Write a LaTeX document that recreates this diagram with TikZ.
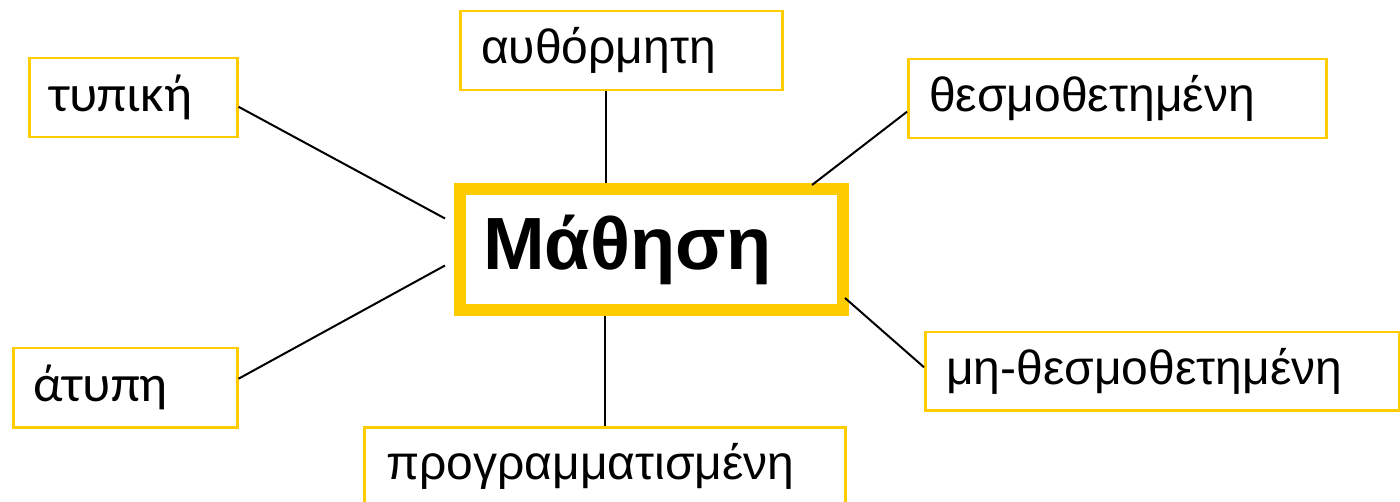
\documentclass[tikz,border=0pt]{standalone}
\usepackage{fontspec}
\setmainfont{Liberation Sans}
\newfontfamily\calfont{Carlito}
\usepackage{tikz}
\usetikzlibrary{
  positioning,
  calc
}
\definecolor{gelb}{HTML}{FFCC00}

\begin{document}
\begin{tikzpicture}[x=1pt,y=-1pt,
  box/.style={draw=gelb,line width=2.5pt,anchor=north west,inner xsep=21pt,align=left,font=\fontsize{48}{52}\selectfont},
  kante/.style={line width=2pt}]
\useasboundingbox (0,0) rectangle (1400,502);

\node (lernen) [draw=gelb, line width=12pt, minimum width=383pt, minimum height=121pt, text width=337pt, inner xsep=23pt, align=left, font=\bfseries\fontsize{74}{78}\selectfont] at (651.5,249.5) {Μάθηση};

\node (typisch) [box, minimum height=79pt, text width=168pt, inner xsep=20pt, font=\calfont\fontsize{52}{56}\selectfont] at (28,57) {τυπική};
\node (spontan) [box, minimum height=79pt, text width=280pt] at (459,10) {αυθόρμητη};
\node (formal) [box, minimum height=79pt, text width=376pt] at (907,58) {θεσμοθετημένη};
\node (atypisch) [box, minimum height=79pt, text width=184pt, inner xsep=20pt, font=\calfont\fontsize{52}{56}\selectfont] at (12,347) {άτυπη};
\node (nonformal) [box, minimum height=78pt, text width=432pt] at (924,331) {μη-θεσμοθετημένη};
\node (programm) [box, minimum height=79pt, text width=437pt, inner xsep=22pt] at (363,426) {προγραμματισμένη};

\coordinate (oben) at ($(spontan.south)+(-15,0)$);

\draw[kante] ($(typisch.east)+(0,9)$) -- ($(lernen.west)+(-9,-31)$);
\draw[kante] ($(atypisch.east)+(0,-9)$) -- ($(lernen.west)+(-9,16)$);
\draw[kante] (oben) -- (oben |- lernen.north);
\draw[kante] (programm.north) -- (programm.north |- lernen.south);
\draw[kante] ($(lernen.north east)+(-37,2)$) -- ($(formal.west)+(0,13)$);
\draw[kante] ($(lernen.south east)+(-4,-18)$) -- ($(nonformal.west)+(0,-4)$);
\end{tikzpicture}
\end{document}
